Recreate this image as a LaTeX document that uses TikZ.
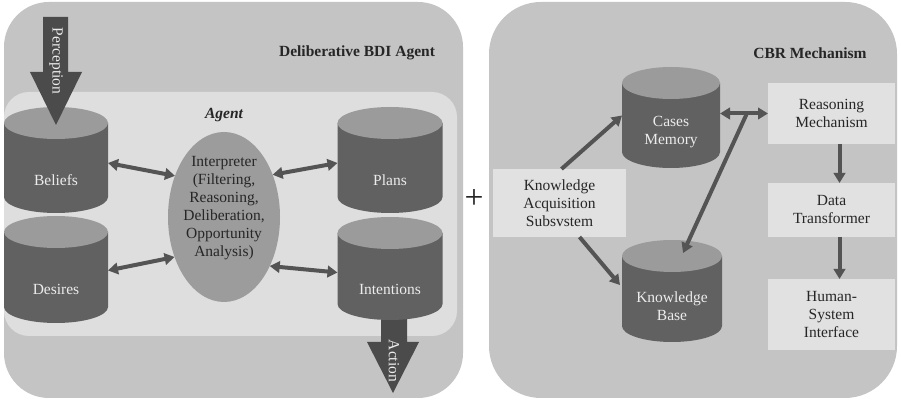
\documentclass[tikz,border=0pt]{standalone}
\usepackage{fontspec}
\setmainfont{Liberation Serif}
\usetikzlibrary{arrows.meta,calc,shapes.geometric}

\definecolor{panelgray}{RGB}{196,196,196}
\definecolor{innergray}{RGB}{222,222,222}
\definecolor{drumside}{RGB}{97,97,97}
\definecolor{drumtop}{RGB}{155,155,155}
\definecolor{interpfill}{RGB}{156,156,156}
\definecolor{linkgray}{RGB}{84,84,84}
\definecolor{boxfill}{RGB}{225,225,225}
\definecolor{inktext}{RGB}{38,38,38}
\definecolor{drumink}{RGB}{236,236,236}

\tikzset{
  txt/.style={font=\fontsize{15.5}{18}\selectfont, align=center, text=inktext, inner sep=0pt},
  titletxt/.style={txt, font=\fontsize{15.5}{18}\selectfont\bfseries},
  drumframe/.style={rectangle, inner sep=0pt, outer sep=0pt},
  drumlabel/.style={txt, text=drumink},
  bigarrow/.style={fill=linkgray!105},
  arrowtext/.style={txt, text=drumink, rotate=-90},
  infobox/.style={rectangle, fill=boxfill, inner sep=0pt, outer sep=0pt, txt},
  interpshape/.style={ellipse, fill=interpfill, inner sep=0pt, outer sep=0pt,
    minimum width=112pt, minimum height=170pt},
  link/.style={draw=linkgray, line width=4pt,
    arrows={-Triangle[length=10pt,width=11.5pt]}},
  twoway/.style={draw=linkgray, line width=4pt,
    arrows={Triangle[length=10pt,width=11.5pt]-Triangle[length=10pt,width=11.5pt]}},
  plussign/.style={font=\fontsize{24}{26}\selectfont, text=inktext, inner sep=0pt, scale=1.4},
}

% cylinder store: name, centre x, top y, bottom y, half width, label y, label
\newcommand\drum[7]{%
  \fill[drumside] ({#2-#5},{#3-16}) -- ({#2-#5},{#4+16})
    arc[start angle=180,end angle=360,x radius=#5pt,y radius=16pt]
    -- ({#2+#5},{#3-16}) -- cycle;
  \fill[drumtop] (#2,{#3-16}) ellipse[x radius=#5pt,y radius=16pt];
  \node[drumframe,minimum width={2*#5},minimum height={#3-#4}] (#1) at (#2,{(#3+#4)/2}) {};
  \node[drumlabel] (#1-text) at (#2,#6) {#7};
}

\begin{document}
\begin{tikzpicture}[x=1pt,y=1pt]
\useasboundingbox (0,0) rectangle (901,401);
\fill[white] (0,0) rectangle (901,401);

% ---------------- deliberative BDI agent ----------------
\fill[panelgray,rounded corners=45pt] (4,3) rectangle (463,399);
\fill[innergray,rounded corners=25pt] (4,65) rectangle (457,309);

\node[titletxt] (bdi-title) at (357,348) {Deliberative BDI Agent};
\node[txt, font=\fontsize{15.5}{18}\selectfont\bfseries\itshape] (agent-title) at (224,286) {Agent};

% action output arrow (drawn first so the store covers its root)
\fill[bigarrow] (381,95) -- (407,95) -- (407,59) -- (419,59) -- (393,8) -- (367,59) -- (381,59) -- cycle;
\node[arrowtext] (action) at (394,40) {Action};

\drum{beliefs}{56}{294}{188}{52}{221}{Beliefs}
\drum{desires}{56}{185}{78}{52}{112}{Desires}
\drum{plans}{390}{294}{188}{52.5}{221}{Plans}
\drum{intentions}{390}{184}{81}{52.5}{112}{Intentions}

% perception input arrow
\fill[bigarrow] (43,384) -- (68,384) -- (68,329) -- (82,329) -- (56,276) -- (30,329) -- (43,329) -- cycle;
\node[arrowtext] (perception) at (56,340) {Perception};

\node[interpshape] (interp) at (224,184) {};
\node[txt] (interp-text) at (224,193) {Interpreter\\(Filtering,\\Reasoning,\\Deliberation,\\Opportunity\\Analysis)};

\draw[twoway] ([yshift=-3pt]beliefs.east) -- (interp.140);
\draw[twoway] ([yshift=-1pt]desires.east) -- (interp.219);
\draw[twoway] (interp.41) -- ([yshift=-3pt]plans.west);
\draw[twoway] (interp.-47) -- ([yshift=-4pt]intentions.west);

\node[plussign] (plus) at (474,202) {+};

% ---------------- CBR mechanism ----------------
\fill[panelgray,rounded corners=52pt] (489,3) rectangle (897,399);
\node[titletxt] (cbr-title) at (810,348) {CBR Mechanism};

\drum{cases}{671}{334}{233}{49}{268.5}{Cases\\Memory}
\drum{kbase}{672}{161}{59}{50}{95}{Knowledge\\Base}

\node[infobox, minimum width=133pt, minimum height=68pt] (acq) at (559.5,198) {Knowledge\\Acquisition\\Subsvstem};
\node[infobox, minimum width=127pt, minimum height=61pt] (reason) at (831.5,287.5) {Reasoning\\Mechanism};
\node[infobox, minimum width=127pt, minimum height=54pt] (transf) at (831.5,191) {Data\\Transformer};
\node[infobox, minimum width=127pt, minimum height=71pt] (hsi) at (831.5,86.5) {Human-\\System\\Interface};

\draw[link] ([xshift=2pt]acq.north) -- ([yshift=2pt]cases.west);
\draw[link] ([xshift=20pt]acq.south) -- ([xshift=-2pt,yshift=6pt]kbase.west);

\draw[twoway] (reason.west -| cases.east) -- (reason.west);
\coordinate (junction) at ($(reason.west -| cases.east)!0.55!(reason.west)$);
\draw[link] ([yshift=-1pt]junction) -- ([xshift=11pt,yshift=-13pt]kbase.north);

\draw[link] ([xshift=8pt]reason.south) -- ([xshift=8pt]transf.north);
\draw[link] ([xshift=8pt]transf.south) -- ([xshift=8pt]hsi.north);
\end{tikzpicture}
\end{document}
